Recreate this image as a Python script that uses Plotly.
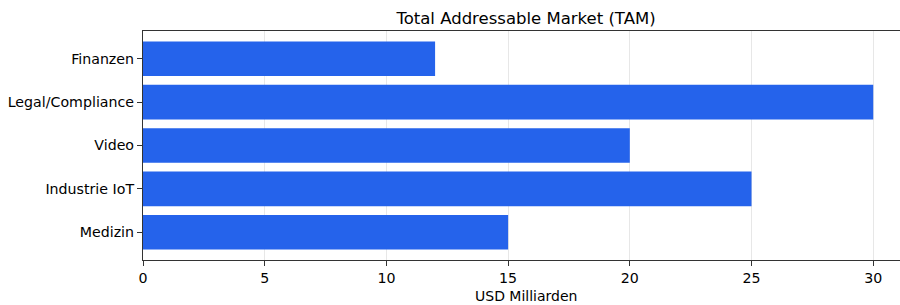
import plotly.graph_objects as go

categories = ["Medizin", "Industrie IoT", "Video", "Legal/Compliance", "Finanzen"]
values = [15, 25, 20, 30, 12]
x_ticks = [0, 5, 10, 15, 20, 25, 30]

font = "DejaVu Sans"

fig = go.Figure(
    go.Bar(
        x=values,
        y=categories,
        orientation="h",
        width=0.8,
        marker=dict(color="#2563eb", line=dict(width=0)),
        hoverinfo="x+y",
    )
)

fig.update_layout(
    width=900,
    height=305,
    margin=dict(l=143, r=0, t=31, b=45, autoexpand=False),
    paper_bgcolor="white",
    plot_bgcolor="white",
    showlegend=False,
    font=dict(family=font, size=14, color="#000000"),
    title=dict(
        text="Total Addressable Market (TAM)",
        x=526 / 900,
        xref="container",
        xanchor="center",
        y=1 - 18 / 305,
        yref="container",
        yanchor="middle",
        font=dict(family=font, size=16.5, color="#000000"),
    ),
    bargap=0.2,
    annotations=[
        dict(
            text="USD Milliarden",
            xref="paper", yref="paper",
            x=(526 - 143) / 757, y=-(296 - 260) / 229,
            xanchor="center", yanchor="middle",
            showarrow=False,
            font=dict(family=font, size=14, color="#000000"),
        )
    ],
)

fig.update_xaxes(
    range=[0, 31.1],
    tickvals=x_ticks,
    ticktext=[str(v) for v in x_ticks],
    ticks="outside",
    ticklen=5,
    tickwidth=1,
    tickcolor="#333333",
    showline=True,
    linecolor="#333333",
    linewidth=1.2,
    mirror=True,
    showgrid=True,
    gridcolor="rgba(176,176,176,0.3)",
    gridwidth=1,
    zeroline=False,
    layer="above traces",
    automargin=False,
    tickfont=dict(family=font, size=14.2, color="#000000"),
)

fig.update_yaxes(
    range=[-0.64, 4.64],
    categoryorder="array",
    categoryarray=categories,
    ticks="outside",
    ticklen=5,
    tickwidth=1,
    tickcolor="#333333",
    showline=True,
    linecolor="#333333",
    linewidth=1.2,
    mirror=False,
    showgrid=False,
    zeroline=False,
    automargin=False,
    tickfont=dict(family=font, size=14.2, color="#000000"),
)

fig.write_html(
    "out.html",
    config={"displayModeBar": False},
    post_script="document.body.style.margin='0';document.body.style.overflow='hidden';",
)
